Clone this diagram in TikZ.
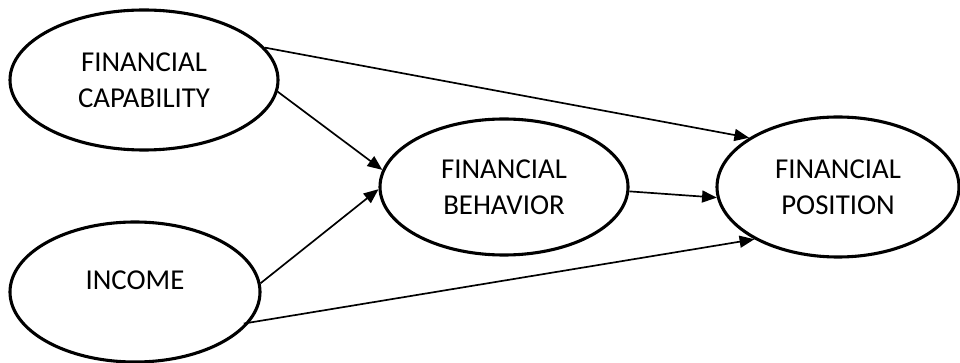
\documentclass[tikz,border=0pt]{standalone}
\usepackage{fontspec}
\setmainfont{Carlito}
\usetikzlibrary{shapes.geometric,arrows.meta}
\tikzset{
	factor/.style={ellipse,draw,line width=2.2pt,align=center,inner sep=0pt,
		font=\fontsize{20.5pt}{25.6pt}\selectfont},
	effect/.style={-{Triangle[length=10.5pt,width=8.5pt]},line width=1.2pt}
}
\begin{document}
\begin{tikzpicture}
		\useasboundingbox (0,0) rectangle (24,-9.075);
		\node[factor,minimum width=6.7cm,minimum height=3.5cm] (cap) at (3.6,-2.0) {FINANCIAL\\CAPABILITY};
		\node[factor,minimum width=6.25cm,minimum height=3.5cm,text height=0.45cm,text depth=0.55cm] (inc) at (3.375,-7.3) {INCOME};
		\node[factor,minimum width=6.2cm,minimum height=3.4cm] (beh) at (12.6,-4.675) {FINANCIAL\\BEHAVIOR};
		\node[factor,minimum width=6.05cm,minimum height=3.5cm] (pos) at (20.95,-4.675) {FINANCIAL\\POSITION};
		\draw[effect] (cap.15) -- (pos.151);
		\draw[effect] (cap.-5) -- (beh.172);
		\draw[effect] (inc.4) -- (beh.181);
		\draw[effect,shorten <=-4pt] (inc.-15) -- (pos.212);
		\draw[effect] (beh.-2) -- (pos.185);
		\end{tikzpicture}
\end{document}
